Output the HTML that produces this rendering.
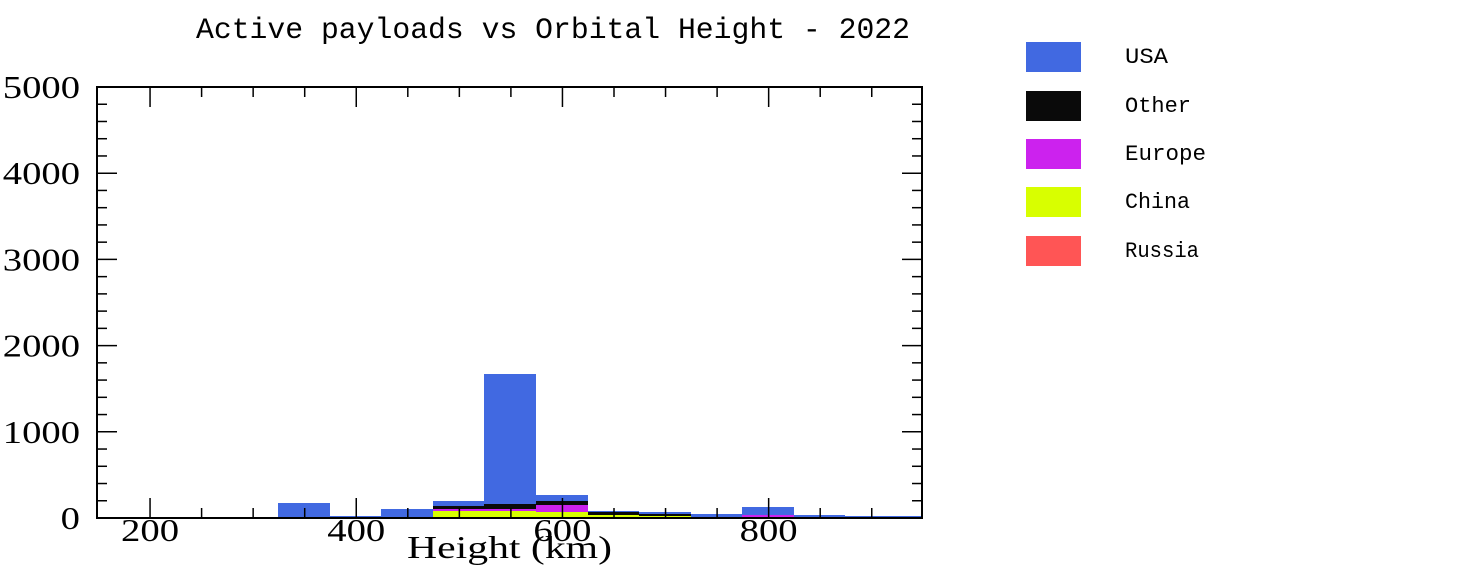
<!DOCTYPE html>
<html><head><meta charset="utf-8"><style>html,body{margin:0;padding:0;background:#fff}svg{display:block}</style></head>
<body>
<svg width="1478" height="576" xmlns="http://www.w3.org/2000/svg">
<rect width="1478" height="576" fill="#fff"/>
<text x="196" y="38" font-family="Liberation Mono, monospace" font-size="30" textLength="714" lengthAdjust="spacingAndGlyphs">Active payloads vs Orbital Height - 2022</text>
<g shape-rendering="crispEdges">
<rect x="278" y="503" width="52" height="15" fill="#4169e1"/>
<rect x="330" y="516" width="51" height="2" fill="#4169e1"/>
<rect x="381" y="509" width="52" height="9" fill="#4169e1"/>
<rect x="433" y="501" width="51" height="17" fill="#4169e1"/>
<rect x="433" y="506" width="51" height="3" fill="#0a0a0a"/>
<rect x="433" y="509" width="51" height="2" fill="#cc22ee"/>
<rect x="433" y="511" width="51" height="6" fill="#d8ff00"/>
<rect x="484" y="374" width="52" height="144" fill="#4169e1"/>
<rect x="484" y="504" width="52" height="5" fill="#0a0a0a"/>
<rect x="484" y="509" width="52" height="2" fill="#cc22ee"/>
<rect x="484" y="511" width="52" height="6" fill="#d8ff00"/>
<rect x="536" y="495" width="52" height="23" fill="#4169e1"/>
<rect x="536" y="501" width="52" height="4" fill="#0a0a0a"/>
<rect x="536" y="505" width="52" height="7" fill="#cc22ee"/>
<rect x="536" y="512" width="52" height="5" fill="#d8ff00"/>
<rect x="588" y="511" width="51" height="7" fill="#4169e1"/>
<rect x="588" y="512" width="51" height="3" fill="#0a0a0a"/>
<rect x="588" y="515" width="51" height="2" fill="#d8ff00"/>
<rect x="639" y="512" width="52" height="6" fill="#4169e1"/>
<rect x="639" y="514" width="52" height="2" fill="#0a0a0a"/>
<rect x="639" y="516" width="52" height="1" fill="#d8ff00"/>
<rect x="691" y="514" width="51" height="4" fill="#4169e1"/>
<rect x="742" y="507" width="52" height="11" fill="#4169e1"/>
<rect x="742" y="515" width="52" height="2" fill="#cc22ee"/>
<rect x="794" y="515" width="51" height="3" fill="#4169e1"/>
<rect x="845" y="516" width="51" height="2" fill="#4169e1"/>
<rect x="896" y="516" width="26" height="2" fill="#4169e1"/>
<rect x="97" y="517" width="825" height="1.5" fill="#d44"/>
</g>
<rect x="97" y="87" width="825" height="431" fill="none" stroke="#000" stroke-width="2"/>
<g stroke="#000" stroke-width="1.5" id="ticks"></g>
<g font-family="Liberation Serif, serif" font-size="32" fill="#000" id="labels"></g>
<text x="407" y="558" font-family="Liberation Serif, serif" font-size="32" textLength="205" lengthAdjust="spacingAndGlyphs">Height (km)</text>
<g font-family="Liberation Mono, monospace" font-size="22">
<rect x="1026" y="42" width="55" height="30" fill="#4169e1"/><text x="1125" y="63" textLength="43" lengthAdjust="spacingAndGlyphs">USA</text>
<rect x="1026" y="91" width="55" height="30" fill="#0a0a0a"/><text x="1125" y="112" textLength="66" lengthAdjust="spacingAndGlyphs">Other</text>
<rect x="1026" y="139" width="55" height="30" fill="#cc22ee"/><text x="1125" y="160" textLength="81" lengthAdjust="spacingAndGlyphs">Europe</text>
<rect x="1026" y="187" width="55" height="30" fill="#d8ff00"/><text x="1125" y="208" textLength="65" lengthAdjust="spacingAndGlyphs">China</text>
<rect x="1026" y="236" width="55" height="30" fill="#ff5555"/><text x="1125" y="257" textLength="74" lengthAdjust="spacingAndGlyphs">Russia</text>
</g>
<script>
var t=document.getElementById('ticks'),l=document.getElementById('labels'),ns='http://www.w3.org/2000/svg';
function ln(a,b,c,d){var e=document.createElementNS(ns,'line');e.setAttribute('x1',a);e.setAttribute('y1',b);e.setAttribute('x2',c);e.setAttribute('y2',d);t.appendChild(e);}
function tx(s,x,y,w){var e=document.createElementNS(ns,'text');e.setAttribute('x',x);e.setAttribute('y',y);e.setAttribute('textLength',w);e.setAttribute('lengthAdjust','spacingAndGlyphs');e.textContent=s;l.appendChild(e);}
for(var v=0;v<=5000;v+=200){var y=518-v*0.0862;var M=v%1000==0;var L=M?20:10;ln(97,y,97+L,y);ln(922,y,922-L,y);if(M){var s=String(v);var w=s.length*19.3;tx(s,80-w,y+11,w);}}
for(var k=200;k<=900;k+=50){var x=98.5+(k-150)*1.031;var M=k%200==0;var L=M?20:10;ln(x,518,x,518-L);ln(x,87,x,87+L);if(M)tx(String(k),x-29,541,58);}
</script>
</svg>
</body></html>
